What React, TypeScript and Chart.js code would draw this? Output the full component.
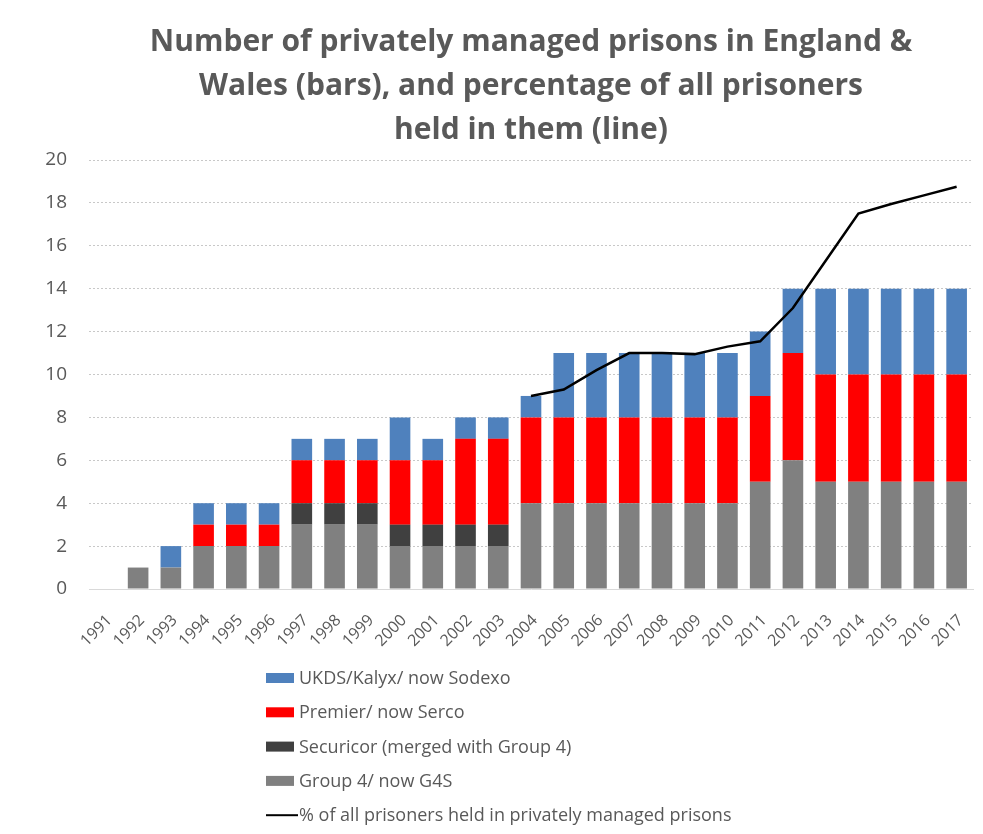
import React, { useEffect, useRef } from "react";
import { Chart, registerables } from "chart.js";

Chart.register(...registerables);

const years = ["1991","1992","1993","1994","1995","1996","1997","1998","1999","2000","2001","2002","2003","2004","2005","2006","2007","2008","2009","2010","2011","2012","2013","2014","2015","2016","2017"];
const g4s =       [0,1,1,2,2,2,3,3,3,2,2,2,2,4,4,4,4,4,4,4,5,6,5,5,5,5,5];
const securicor = [0,0,0,0,0,0,1,1,1,1,1,1,1,0,0,0,0,0,0,0,0,0,0,0,0,0,0];
const serco =     [0,0,0,1,1,1,2,2,2,3,3,4,4,4,4,4,4,4,4,4,4,5,5,5,5,5,5];
const sodexo =    [0,0,1,1,1,1,1,1,1,2,1,1,1,1,3,3,3,3,3,3,3,3,4,4,4,4,4];
const pctPrivate = [null,null,null,null,null,null,null,null,null,null,null,null,null,9.0,9.3,10.2,11.0,11.0,10.95,11.3,11.55,13.1,15.3,17.5,17.95,18.35,18.75];
const yTicks = [0,2,4,6,8,10,12,14,16,18,20];
const titleLines = ["Number of privately managed prisons in England &", "Wales (bars), and percentage of all prisoners", "held in them (line)"];

const TEXT = "#595959";
const FONT = "Open Sans, sans-serif";

const titlePlugin = {
  id: "ctitle",
  afterDraw(chart: any) {
    const ctx = chart.ctx;
    ctx.save();
    ctx.font = `bold 30px ${FONT}`;
    ctx.fillStyle = TEXT;
    ctx.textAlign = "center";
    ctx.textBaseline = "middle";
    const cx = (chart.chartArea.left + chart.chartArea.right) / 2;
    titleLines.forEach((t, i) => ctx.fillText(t, cx, 42 + i * 44));
    ctx.restore();
  },
};

const legendPlugin = {
  id: "vlegend",
  afterDraw(chart: any) {
    const ctx = chart.ctx;
    const order = [3, 2, 1, 0, 4];
    const x0 = 266;
    let y = 678;
    ctx.save();
    ctx.font = `18px ${FONT}`;
    ctx.textBaseline = "middle";
    ctx.textAlign = "left";
    for (const idx of order) {
      const ds = chart.data.datasets[idx];
      if (ds.type === "line") {
        ctx.strokeStyle = ds.borderColor;
        ctx.lineWidth = 2;
        ctx.beginPath();
        ctx.moveTo(x0, y);
        ctx.lineTo(x0 + 32, y);
        ctx.stroke();
      } else {
        ctx.fillStyle = ds.backgroundColor;
        ctx.fillRect(x0, y - 5, 28, 10);
      }
      ctx.fillStyle = TEXT;
      ctx.fillText(ds.label, x0 + 33, y + 1);
      y += 34.3;
    }
    ctx.restore();
  },
};

export default function App() {
  const ref = useRef<HTMLCanvasElement | null>(null);
  useEffect(() => {
    if (!ref.current) return;
    const mk = (label: string, data: number[], color: string) => ({
      type: "bar" as const,
      label,
      data,
      backgroundColor: color,
      borderWidth: 0,
      stack: "s",
      barPercentage: 0.63,
      categoryPercentage: 1,
      order: 2,
    });
    const chart = new Chart(ref.current, {
      type: "bar",
      data: {
        labels: years,
        datasets: [
          mk("Group 4/ now G4S", g4s, "#808080"),
          mk("Securicor (merged with Group 4)", securicor, "#404040"),
          mk("Premier/ now Serco", serco, "#ff0000"),
          mk("UKDS/Kalyx/ now Sodexo", sodexo, "#4f81bd"),
          {
            type: "line" as const,
            label: "% of all prisoners held in privately managed prisons",
            data: pctPrivate as any,
            borderColor: "#000000",
            backgroundColor: "#000000",
            borderWidth: 2.5,
            pointRadius: 0,
            tension: 0,
            order: 1,
          } as any,
        ],
      },
      options: {
        responsive: true,
        maintainAspectRatio: false,
        animation: false,
        layout: { padding: { left: 20, right: 10, top: 160, bottom: 185 } },
        plugins: {
          legend: { display: false },
          tooltip: { enabled: false },
          title: { display: false },
        },
        scales: {
          x: {
            stacked: true,
            afterFit: (scale: any) => {
              scale.height = 60;
              scale.paddingLeft = 0;
              scale.paddingRight = 0;
              scale.paddingTop = 0;
              scale.paddingBottom = 0;
            },
            grid: { display: false, drawTicks: false },
            border: { display: true, color: "#d9d9d9", width: 1 },
            ticks: {
              color: TEXT,
              font: { family: FONT, size: 16 },
              minRotation: 45,
              maxRotation: 45,
              autoSkip: false,
              padding: 22,
              labelOffset: 4,
            },
          },
          y: {
            stacked: true,
            min: 0,
            max: 20,
            afterFit: (scale: any) => {
              scale.width = 69;
              scale.paddingTop = 0;
              scale.paddingBottom = 0;
            },
            afterBuildTicks: (scale: any) => {
              scale.ticks = yTicks.map((v) => ({ value: v }));
            },
            grid: { color: "#c8c8c8", drawTicks: false, lineWidth: 1 },
            border: { display: false, dash: [2, 2] },
            ticks: {
              color: TEXT,
              font: { family: FONT, size: 19 },
              padding: 22,
            },
          },
        },
      },
      plugins: [titlePlugin, legendPlugin],
    });
    return () => chart.destroy();
  }, []);
  return (
    <div style={{ position: "fixed", left: 0, top: 0, width: 983, height: 834, background: "#fff" }}>
      <canvas ref={ref} />
    </div>
  );
}
